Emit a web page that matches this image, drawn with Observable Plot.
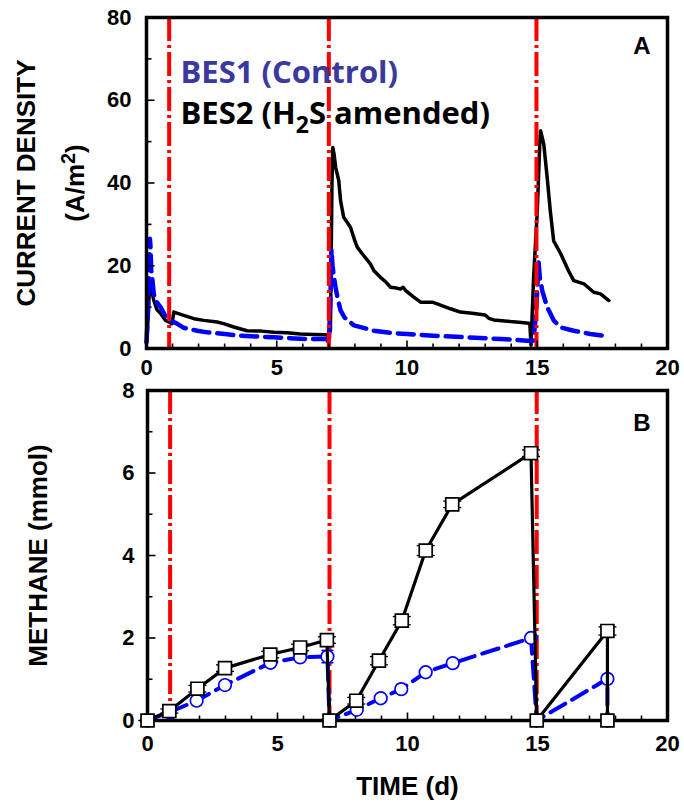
<!DOCTYPE html>
<html><head><meta charset="utf-8">
<script src="https://cdn.jsdelivr.net/npm/d3@7"></script>
<script src="https://cdn.jsdelivr.net/npm/@observablehq/plot@0.6"></script>
<style>
body{margin:0;background:#fff;}
#chart{width:684px;}
#chart svg{display:block;overflow:visible;background:transparent;}
</style>
</head><body><div id="chart"></div>
<script>
// ---------- DATA ----------
const batchStarts = [0.87, 7.0, 14.97];

// Panel A: current density (A/m2)
const currentTimeBES2 = [0, 0.03, 0.08, 0.12, 0.15, 0.2, 0.28, 0.4, 0.55, 0.73, 0.9, 0.98, 1.05, 1.43, 1.82, 2.2, 2.71, 2.96, 3.35, 3.86, 4.4, 4.89, 5.4, 5.9, 6.4, 6.87, 6.98, 7.06, 7.12, 7.15, 7.2, 7.26, 7.38, 7.45, 7.57, 7.7, 7.83, 8.0, 8.09, 8.28, 8.6, 8.73, 8.98, 9.2, 9.37, 9.6, 9.75, 9.85, 9.95, 10.26, 10.52, 10.97, 11.16, 11.67, 12.05, 12.5, 13.0, 13.14, 13.33, 13.97, 14.4, 14.68, 14.72, 14.76, 14.86, 15.0, 15.1, 15.13, 15.25, 15.38, 15.5, 15.63, 15.9, 16.2, 16.4, 16.8, 17.17, 17.43, 17.75];
const currentBES2 = [1.5, 3.5, 10, 15, 16, 14, 11.6, 9.4, 8.4, 6.8, 6.3, 6.0, 8.8, 8.0, 7.2, 6.8, 6.4, 6.0, 5.2, 4.3, 4.2, 3.9, 3.8, 3.5, 3.4, 3.3, 3.2, 4.3, 40, 48.6, 47, 43.8, 40.6, 35.7, 31.7, 30.5, 29.3, 26, 24.5, 22.9, 20.4, 18.8, 17.2, 16, 14.8, 14.6, 14.4, 14.8, 14.0, 12.4, 11.2, 11.2, 10.8, 9.6, 8.8, 8.5, 8.1, 7.3, 6.9, 6.5, 6.3, 6.1, 5.6, 0.8, 17.2, 33, 50, 52.6, 49.4, 41.4, 33.3, 26, 22.9, 18.8, 16.4, 15.6, 13.6, 13.2, 11.6];

const currentTimeBES1 = [0, 0.05, 0.1, 0.13, 0.15, 0.18, 0.22, 0.28, 0.35, 0.54, 0.73, 0.92, 1.2, 1.43, 1.95, 2.33, 3.0, 3.6, 4.25, 4.89, 5.5, 6.17, 6.87, 6.95, 7.0, 7.06, 7.1, 7.14, 7.18, 7.25, 7.33, 7.45, 7.6, 7.96, 8.33, 8.73, 9.5, 10.0, 11.0, 12.3, 13.6, 14.6, 14.85, 14.95, 15.05, 15.1, 15.15, 15.19, 15.38, 15.63, 15.9, 16.4, 17.04, 17.75];
const currentBES1 = [1.5, 8, 20, 26.5, 25, 19, 17, 13.2, 11.5, 10, 7.8, 6.8, 5.9, 5.0, 4.3, 3.9, 3.5, 3.1, 2.9, 2.7, 2.5, 2.3, 2.3, 2.1, 1.2, 12, 24, 20, 18, 15, 12.4, 9.2, 7.5, 5.6, 5.0, 4.3, 3.7, 3.5, 3.1, 2.7, 2.3, 1.9, 1.9, 8, 21, 17, 15.5, 14, 10, 6.8, 5.1, 4.3, 3.5, 2.9];

// Panel B: methane (mmol)
const methaneTimeBES2 = [0, 0.84, 1.92, 2.98, 4.72, 5.87, 6.9, 7.0, 8.03, 8.9, 9.78, 10.7, 11.72, 14.75, 14.97, 17.69, 17.69];
const methaneBES2 =     [0, 0.23, 0.77, 1.27, 1.6, 1.77, 1.95, 0, 0.48, 1.45, 2.42, 4.12, 5.24, 6.48, 0, 2.17, 0];
const methaneErrBES2 =  [0, 0.05, 0.08, 0.08, 0.08, 0.08, 0.08, 0, 0.08, 0.1, 0.1, 0.12, 0.08, 0.08, 0, 0.1, 0];

const methaneTimeBES1 = [0, 0.84, 1.89, 2.98, 4.73, 5.87, 6.92, 7.0, 8.05, 8.97, 9.76, 10.7, 11.74, 14.75, 14.97, 17.69, 17.69];
const methaneBES1 =     [0, 0.2, 0.48, 0.86, 1.4, 1.53, 1.55, 0, 0.26, 0.54, 0.76, 1.17, 1.39, 2.0, 0, 1.01, 0];
const methaneErrBES1 =  [0, 0.03, 0.04, 0.05, 0.05, 0.06, 0.15, 0, 0.03, 0.04, 0.04, 0.05, 0.05, 0.05, 0, 0.05, 0];

// Tick values / labels
const timeTickLabels = [0, 5, 10, 15, 20];
const timeMinorTicks = d3.range(0, 21, 1);
const currentTickLabels = [0, 20, 40, 60, 80];
const currentMinorTicks = d3.range(0, 81, 10);
const methaneTickLabels = [0, 2, 4, 6, 8];
const methaneMinorTicks = d3.range(0, 9, 1);

// ---------- TABLES ----------
const zipLine = (T, V) => T.map((t, i) => ({t, v: V[i]}));
const zipErr = (T, V, E) => T.map((t, i) => ({t, v: V[i], e: E[i]}));
const curBES1 = zipLine(currentTimeBES1, currentBES1);
const curBES2 = zipLine(currentTimeBES2, currentBES2);
const ch4BES1 = zipErr(methaneTimeBES1, methaneBES1, methaneErrBES1);
const ch4BES2 = zipErr(methaneTimeBES2, methaneBES2, methaneErrBES2);

// ---------- STYLE ----------
const SANS = "Liberation Sans, Arial, Helvetica, sans-serif";
const LEG = "Open Sans, Lato, sans-serif";
const BLUE = "#0000ff";
const RED = "#ff0000";
const tickRight = L => ({draw(c) { c.moveTo(0, 0); c.lineTo(L, 0); }});
const tickUp = L => ({draw(c) { c.moveTo(0, 0); c.lineTo(0, -L); }});
const capSym = W => ({draw(c) { c.moveTo(-W / 2, 0); c.lineTo(W / 2, 0); }});

function inwardTicks(minorX, majorX, minorY, majorY) {
  const o = {stroke: "black", fill: "none", strokeWidth: 1.6};
  return [
    Plot.dot(minorY.filter(d => !majorY.includes(d)), {y: d => d, frameAnchor: "left", symbol: tickRight(5), ...o}),
    Plot.dot(majorY, {y: d => d, frameAnchor: "left", symbol: tickRight(8), ...o}),
    Plot.dot(minorX.filter(d => !majorX.includes(d)), {x: d => d, frameAnchor: "bottom", symbol: tickUp(5), ...o}),
    Plot.dot(majorX, {x: d => d, frameAnchor: "bottom", symbol: tickUp(8), ...o})
  ];
}
const tickFont = {fontSize: 22, fontWeight: "bold", fontFamily: SANS, fill: "black"};
const titleFont = {fontSize: 26, fontWeight: "bold", fontFamily: SANS, fill: "black"};
const redRule = () => Plot.ruleX(batchStarts, {x: d => d, stroke: RED, strokeWidth: 4, strokeDasharray: "24,4,3,4"});

// ---------- PANEL A ----------
const panelA = Plot.plot({
  width: 684, height: 379,
  marginTop: 17, marginBottom: 31, marginLeft: 146, marginRight: 17,
  style: {background: "transparent", overflow: "visible"},
  x: {domain: [0, 20]},
  y: {domain: [0, 80]},
  marks: [
    Plot.line(curBES2, {x: "t", y: "v", stroke: "black", strokeWidth: 3.5, strokeLinejoin: "round"}),
    Plot.line(curBES1, {x: "t", y: "v", stroke: BLUE, strokeWidth: 4.5, strokeDasharray: "16,8"}),
    redRule(),
    ...inwardTicks(timeMinorTicks, timeTickLabels, currentMinorTicks, currentTickLabels),
    Plot.axisY(currentTickLabels, {tickSize: 0, tickPadding: 15, label: null, ...tickFont}),
    Plot.axisX(timeTickLabels, {tickSize: 0, tickPadding: 11, label: null, ...tickFont}),
    Plot.text(["BES1 (Control)"], {text: d => d, frameAnchor: "top-left", textAnchor: "start", lineAnchor: "bottom", dx: 34, dy: 65, fontSize: 31, fontWeight: "bold", fontFamily: LEG, fill: "#3a3a9e"}),
    Plot.text(["BES2 (H2S amended)"], {text: d => d, frameAnchor: "top-left", textAnchor: "start", lineAnchor: "bottom", dx: 34, dy: 106, fontSize: 31, fontWeight: "bold", fontFamily: LEG, fill: "black"}),
    Plot.text(["A"], {text: d => d, frameAnchor: "top-right", textAnchor: "end", lineAnchor: "bottom", dx: -17, dy: 36, fontSize: 24, fontWeight: "bold", fontFamily: SANS, fill: "black"}),
    Plot.text(["CURRENT DENSITY"], {text: d => d, frameAnchor: "left", textAnchor: "middle", rotate: -90, dx: -120, lineAnchor: "middle", ...titleFont}),
    Plot.text(["(A/m2)"], {text: d => d, frameAnchor: "left", textAnchor: "middle", rotate: -90, dx: -71, lineAnchor: "middle", ...titleFont}),
    Plot.frame({stroke: "black", strokeWidth: 3.5})
  ]
});

// ---------- PANEL B ----------
const panelB = Plot.plot({
  width: 684, height: 424,
  marginTop: 11, marginBottom: 83, marginLeft: 147, marginRight: 17,
  style: {background: "transparent", overflow: "visible"},
  x: {domain: [0, 20]},
  y: {domain: [0, 8]},
  marks: [
    redRule(),
    Plot.frame({stroke: "black", strokeWidth: 3.5}),
    ...inwardTicks(timeMinorTicks, timeTickLabels, methaneMinorTicks, methaneTickLabels),
    Plot.axisY(methaneTickLabels, {tickSize: 0, tickPadding: 13, label: null, ...tickFont}),
    Plot.axisX(timeTickLabels, {tickSize: 0, tickPadding: 15, label: null, ...tickFont}),
    // BES1 (control)
    Plot.line(ch4BES1, {x: "t", y: "v", stroke: BLUE, strokeWidth: 4, strokeDasharray: "17,8"}),
    Plot.ruleX(ch4BES1, {x: "t", y1: d => d.v - d.e, y2: d => d.v + d.e, stroke: BLUE, strokeWidth: 1.5}),
    Plot.dot(ch4BES1, {x: "t", y: d => d.v + d.e, symbol: capSym(12), stroke: BLUE, strokeWidth: 1.5}),
    Plot.dot(ch4BES1, {x: "t", y: d => d.v - d.e, symbol: capSym(12), stroke: BLUE, strokeWidth: 1.5}),
    Plot.dot(ch4BES1, {x: "t", y: "v", r: 6.3, fill: "white", stroke: BLUE, strokeWidth: 1.7}),
    // BES2 (H2S amended)
    Plot.line(ch4BES2, {x: "t", y: "v", stroke: "black", strokeWidth: 3.2}),
    Plot.ruleX(ch4BES2, {x: "t", y1: d => d.v - d.e, y2: d => d.v + d.e, stroke: "black", strokeWidth: 1.5}),
    Plot.dot(ch4BES2, {x: "t", y: d => d.v + d.e, symbol: capSym(18), stroke: "black", strokeWidth: 1.3}),
    Plot.dot(ch4BES2, {x: "t", y: d => d.v - d.e, symbol: capSym(18), stroke: "black", strokeWidth: 1.3}),
    Plot.dot(ch4BES2, {x: "t", y: "v", symbol: "square", r: 7.3, fill: "white", stroke: "black", strokeWidth: 1.7}),
    Plot.text(["B"], {text: d => d, frameAnchor: "top-right", textAnchor: "end", lineAnchor: "bottom", dx: -17, dy: 40, fontSize: 24, fontWeight: "bold", fontFamily: SANS, fill: "black"}),
    Plot.text(["METHANE (mmol)"], {text: d => d, frameAnchor: "left", textAnchor: "middle", rotate: -90, dx: -109, lineAnchor: "middle", ...titleFont}),
    Plot.text(["TIME (d)"], {text: d => d, frameAnchor: "bottom", dy: 66, lineAnchor: "middle", ...titleFont})
  ]
});

const chart = document.getElementById("chart");
chart.appendChild(panelA);
chart.appendChild(panelB);

// rich text: subscripts / superscripts
function richText(svg, plain, parts) {
  d3.select(svg).selectAll("text").filter(function() { return this.textContent === plain; }).each(function() {
    const t = d3.select(this);
    t.text(null);
    parts.forEach(p => {
      const s = t.append("tspan").text(p.text);
      if (p.dy) s.attr("dy", p.dy);
      if (p.size) s.attr("font-size", p.size);
    });
  });
}
richText(panelA, "BES2 (H2S amended)", [{text: "BES2 (H"}, {text: "2", dy: 9, size: 23}, {text: "S amended)", dy: -9}]);
richText(panelA, "(A/m2)", [{text: "(A/m"}, {text: "2", dy: -9, size: 20}, {text: ")", dy: 9}]);
</script>
</body></html>
